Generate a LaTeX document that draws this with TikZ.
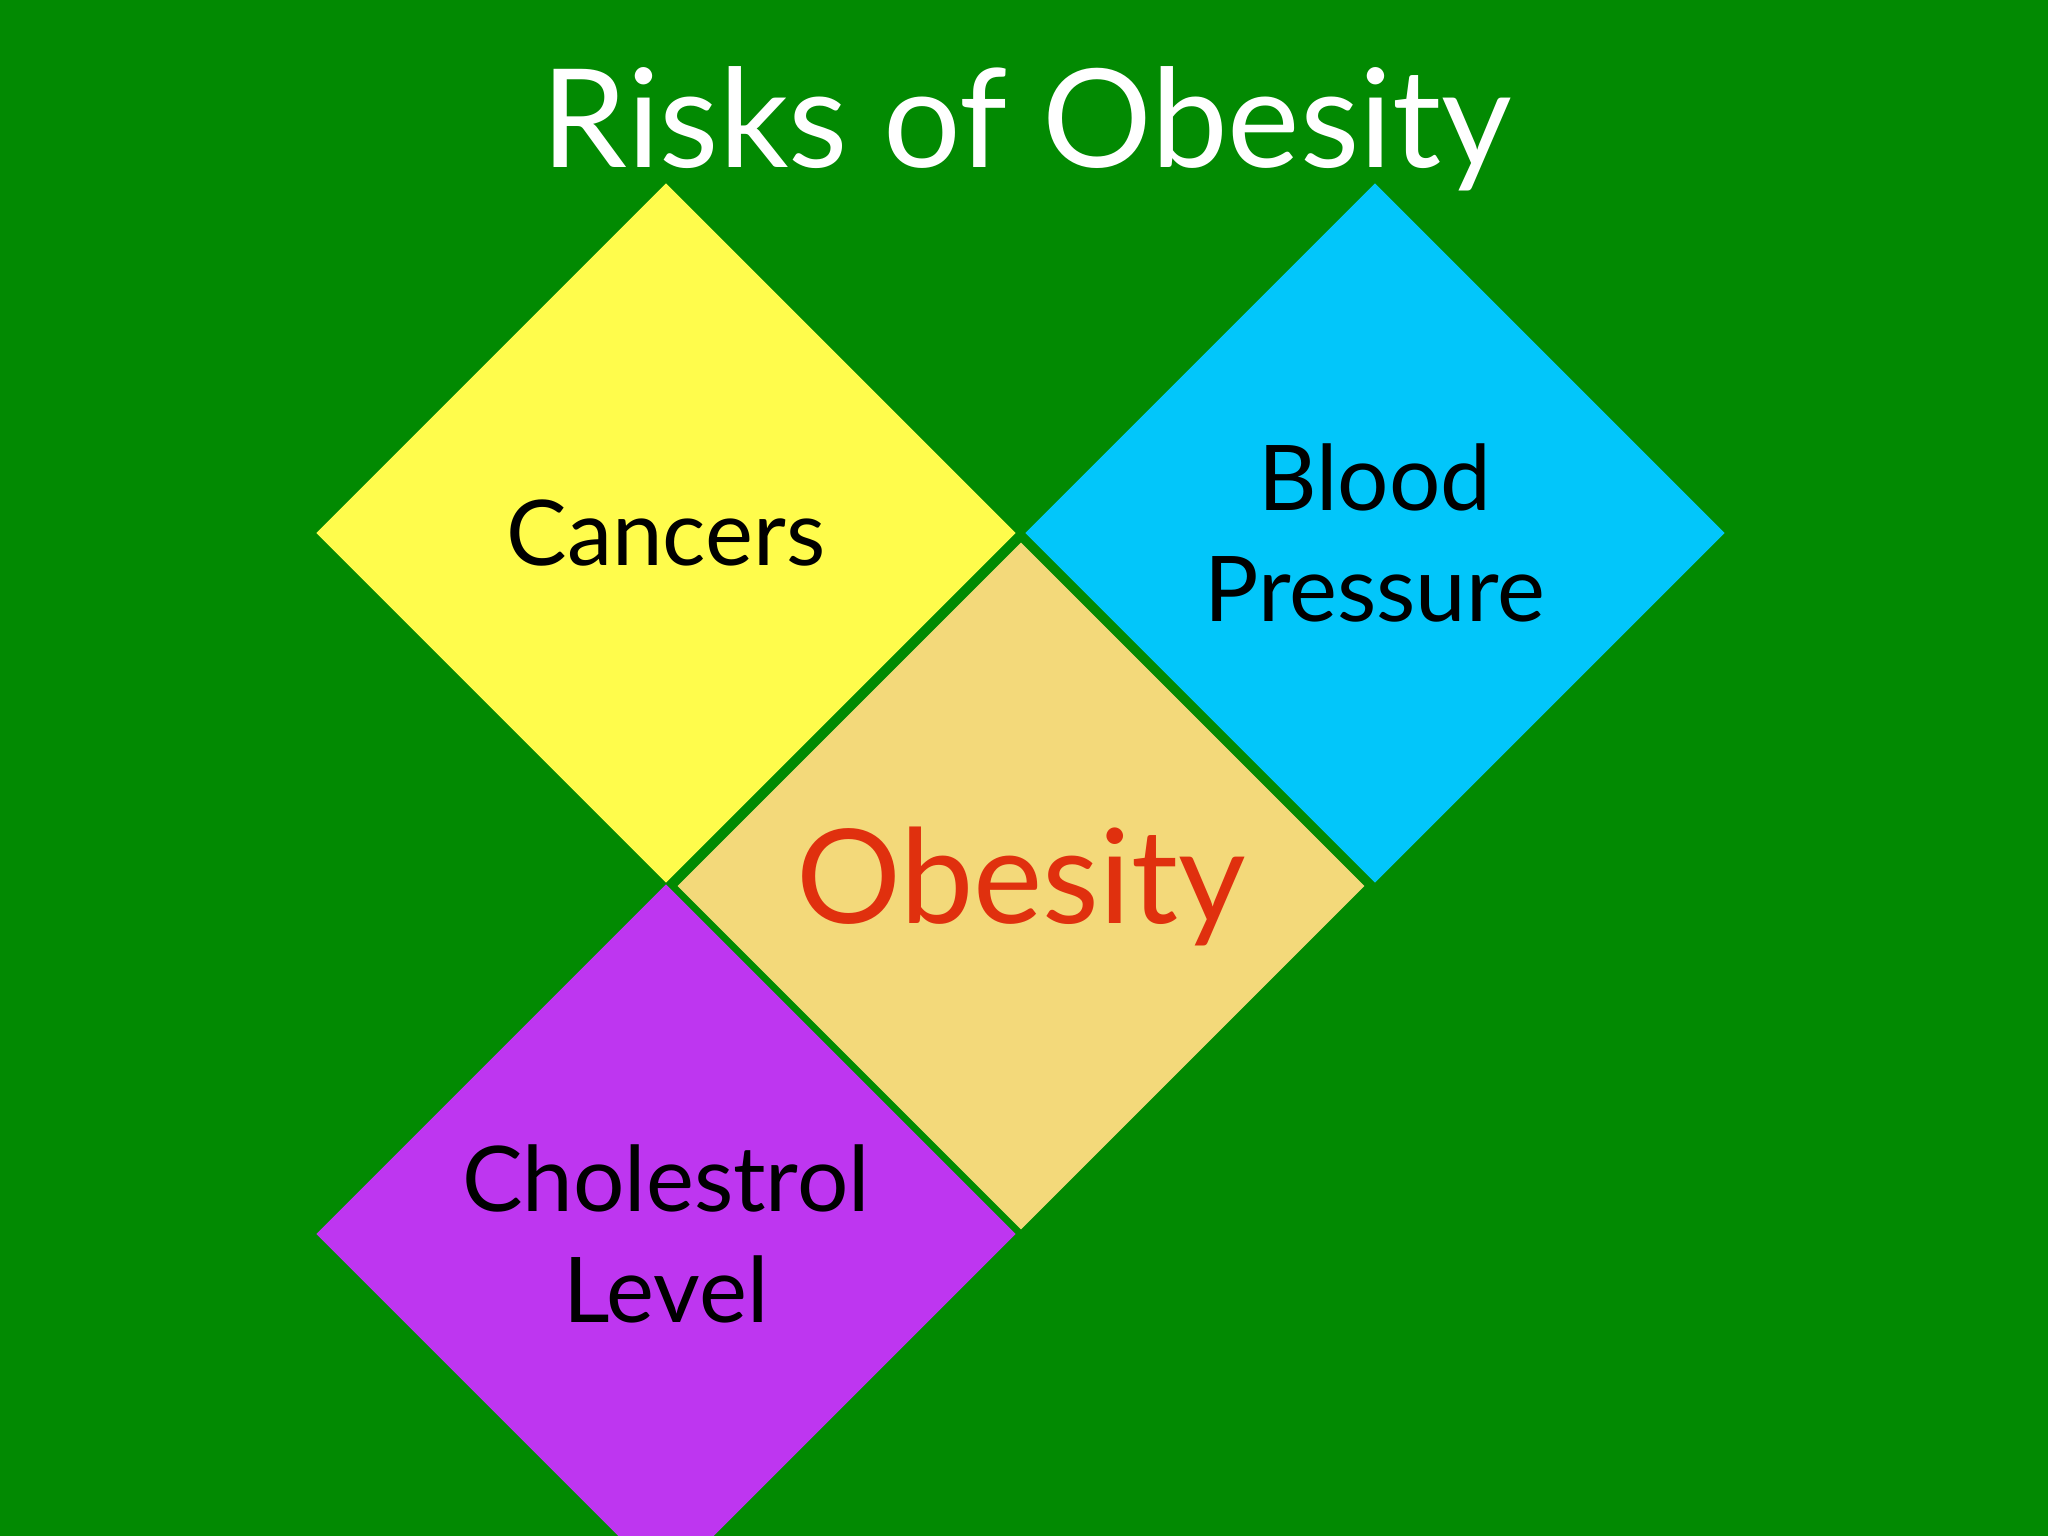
\documentclass[tikz,border=0pt]{standalone}
\usepackage{fontspec}
\setmainfont{Lato}
\usepackage{tikz}
\usetikzlibrary{positioning,shapes.geometric}

\definecolor{slidegreen}{HTML}{028A02}
\definecolor{cancerfill}{HTML}{FFFC4C}
\definecolor{pressurefill}{HTML}{02C6FA}
\definecolor{obesityfill}{HTML}{F3D97A}
\definecolor{cholfill}{HTML}{BE36F0}
\definecolor{obesityred}{HTML}{E0300E}

\begin{document}
\begin{tikzpicture}[
		risk/.style={diamond, aspect=1, inner sep=0pt, minimum width=7cm, minimum height=7cm, align=center, font=\fontsize{25.8}{31.6}\selectfont},
	]
			%\draw[step=1cm,gray,very thin] (0,0) grid (20.48,15.36);
			\fill[slidegreen] (0,0) rectangle (20.48,15.36);
			\clip (0,0) rectangle (20.48,15.36);
			\node[anchor=base, text=white, font=\fontsize{39}{45}\selectfont] (title) at (10.27,13.68) {Risks of Obesity};
			\node[risk, fill=cancerfill] (cancers) at (6.66,10.03) {Cancers};
			\node[risk, fill=pressurefill] (pressure) at (13.75,10.03) {Blood\\Pressure};
			\node[risk, fill=obesityfill, draw=slidegreen, line width=2pt, text=obesityred, font=\fontsize{37.3}{42}\selectfont] (obesity) at (10.21,6.50) {Obesity};
			\node[risk, fill=cholfill] (chol) at (6.66,3.02) {Cholestrol\\Level};
		\end{tikzpicture}
\end{document}
